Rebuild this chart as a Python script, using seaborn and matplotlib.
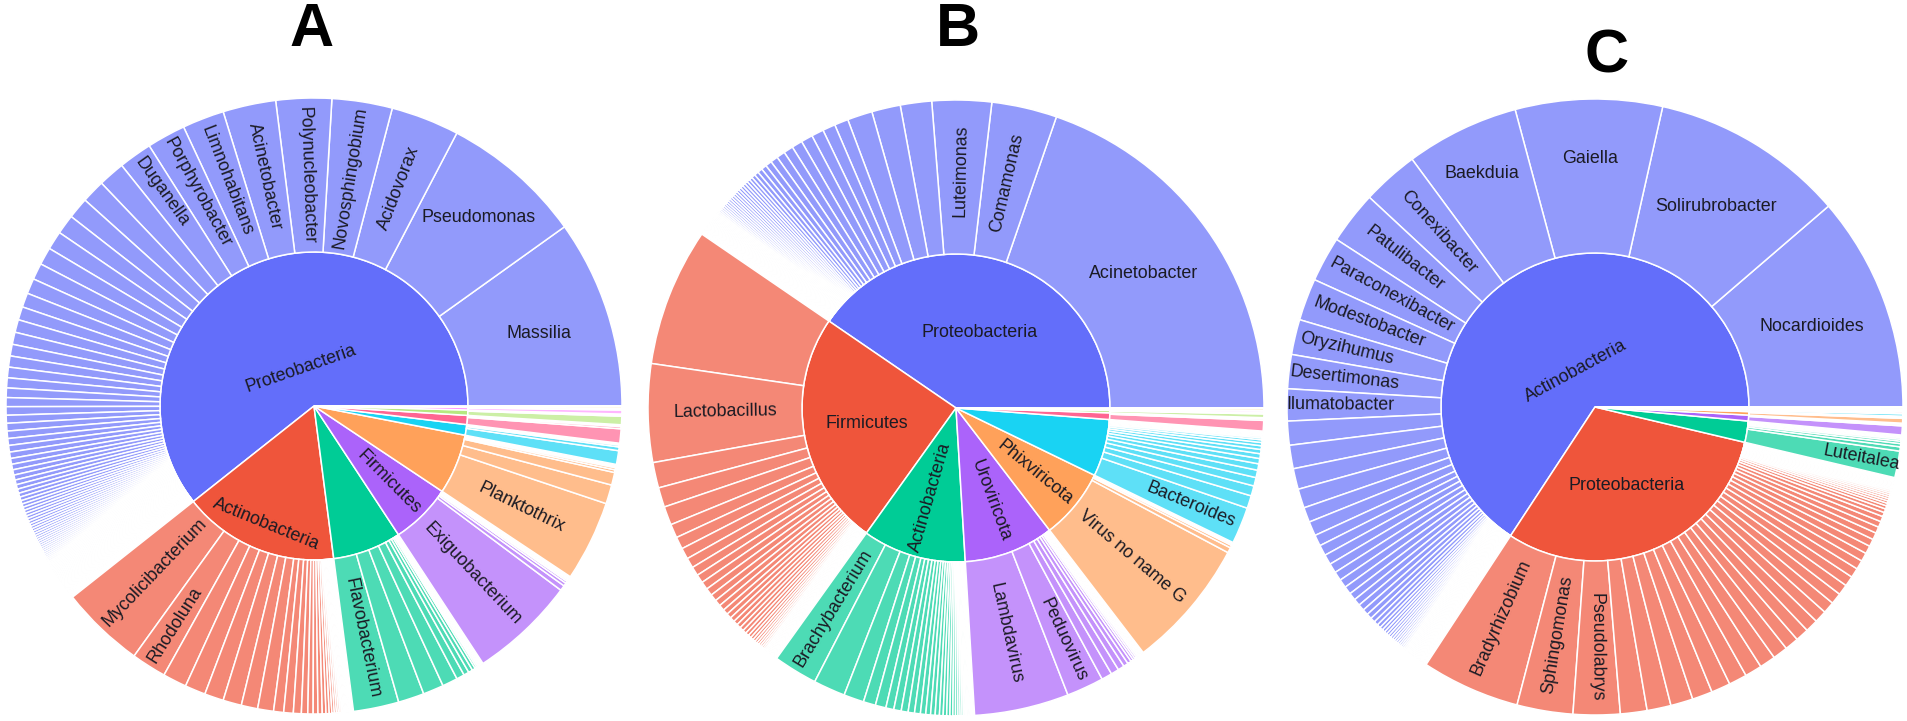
import matplotlib
matplotlib.use("Agg")
import matplotlib.pyplot as plt
import seaborn as sns
import numpy as np
from matplotlib.colors import to_rgb

# ------------------------------------------------------------------ data
PHYLUM_COLORS = ["#636EFA", "#EF553B", "#00CC96", "#AB63FA", "#FFA15A",
                 "#19D3F3", "#FF6692", "#B6E880", "#FF97FF", "#FECB52"]

# ---- Panel A
A_PHYLA = ["Proteobacteria", "Actinobacteria", "", "Firmicutes", "", "", "", "", "", ""]
A_PROTEO_NAMES = ["Massilia", "Pseudomonas", "Acidovorax", "Novosphingobium", "Polynucleobacter",
                  "Acinetobacter", "Limnohabitans", "Porphyrobacter", "Duganella"]
A_PROTEO_VALUES = [35.6, 26.8, 12.9, 11.4, 10.5, 10.0, 7.9, 7.3, 6.3,
                   5.0, 4.4, 4.0, 3.7, 3.5, 3.3, 3.1, 2.9, 2.7, 2.5, 2.4, 2.3, 2.2, 2.1, 2.0, 1.9,
                   1.8, 1.7, 1.6, 1.5, 1.45, 1.4, 1.3, 1.25, 1.2, 1.1, 1.05, 1.0, 0.95, 0.9, 0.85,
                   0.8, 0.75, 0.7, 0.65, 0.62, 0.6, 0.58, 0.56, 0.55, 0.54, 0.52, 0.5, 0.49, 0.48,
                   0.46, 0.45, 0.44, 0.42, 0.41, 0.4, 0.39, 0.38, 0.37, 0.36, 0.35, 0.34, 0.33,
                   0.32, 0.31, 0.3, 0.3, 0.29, 0.28, 0.28, 0.27, 0.26, 0.26, 0.25, 0.24, 0.24,
                   0.23, 0.22, 0.22, 0.21, 0.2, 0.2, 0.19, 0.19, 0.18, 0.18, 0.17, 0.17, 0.16,
                   0.16, 0.15, 0.15, 0.14, 0.14, 0.13, 0.13, 0.12, 0.12, 0.12, 0.11, 0.11, 0.1,
                   0.1, 0.1, 0.09, 0.09, 0.09, 0.08, 0.08, 0.08, 0.07, 0.07, 0.07, 0.06, 0.06,
                   0.06, 0.05, 0.05, 0.05, 0.04, 0.04, 0.04, 0.03, 0.03, 0.03]
A_ACTINO_NAMES = ["Mycolicibacterium", "Rhodoluna"]
A_ACTINO_VALUES = [15.9, 6.6, 4.5, 3.9, 3.6, 3.5, 3.1, 3.0, 1.9, 1.8, 1.5, 1.2, 1.0, 0.9, 0.8,
                   0.7, 0.6, 0.5, 0.45, 0.4, 0.36, 0.33, 0.3, 0.27, 0.24, 0.22, 0.2, 0.18, 0.16,
                   0.15, 0.13, 0.12, 0.1, 0.09, 0.08, 0.07, 0.06, 0.05, 0.04, 0.03]
A_BACT_NAMES = ["Flavobacterium"]
A_BACT_VALUES = [8.6, 4.9, 3.9, 2.9, 1.5, 1.0, 0.8, 0.6, 0.35, 0.3, 0.25, 0.2, 0.16, 0.13,
                 0.1, 0.08, 0.06, 0.05, 0.04]
A_FIRM_NAMES = ["Exiguobacterium"]
A_FIRM_VALUES = [20.0, 1.0, 0.6, 0.4, 0.3, 0.2, 0.15, 0.12, 0.1, 0.08, 0.06, 0.05]
A_CYANO_NAMES = ["Planktothrix"]
A_CYANO_VALUES = [15.2, 3.6, 2.4, 0.5, 0.4, 0.25, 0.15, 0.1, 0.08, 0.05]
A_P6_VALUES = [2.6, 0.7, 0.35, 0.2, 0.1, 0.05]
A_P7_VALUES = [2.7, 0.4, 0.2, 0.1, 0.05]
A_P8_VALUES = [1.6, 0.25, 0.1, 0.05]
A_P9_VALUES = [0.75, 0.15, 0.1]
A_P10_VALUES = [0.35, 0.1, 0.05]

# ---- Panel B
B_PHYLA = ["Proteobacteria", "Firmicutes", "Actinobacteria", "Uroviricota", "Phixviricota",
           "", "", "", "", ""]
B_PROTEO_NAMES = ["Acinetobacter", "Comamonas", "Luteimonas"]
B_PROTEO_VALUES = [70.8, 12.3, 11.2, 5.9, 5.4, 4.7, 2.6, 2.4, 2.3, 2.2, 2.0, 1.8, 1.6, 1.4, 1.2,
                   1.0, 0.9, 0.8, 0.7, 0.6, 0.58, 0.56, 0.55, 0.53, 0.52, 0.5, 0.49, 0.47, 0.46,
                   0.45, 0.44, 0.43, 0.42, 0.4, 0.38, 0.36, 0.34, 0.32, 0.3, 0.29, 0.28, 0.27,
                   0.26, 0.25, 0.24, 0.23, 0.22, 0.21, 0.2, 0.19, 0.18, 0.17, 0.16, 0.15, 0.14,
                   0.13, 0.12, 0.12, 0.11, 0.1, 0.1, 0.09, 0.09, 0.08, 0.08, 0.07, 0.07, 0.06,
                   0.06, 0.05, 0.05, 0.04, 0.04, 0.03, 0.03]
B_FIRM_NAMES = ["", "Lactobacillus"]
B_FIRM_VALUES = [26.0, 18.5, 4.8, 3.7, 3.5, 2.6, 2.3, 2.1, 1.9, 1.7, 1.6, 1.5, 1.4, 1.3, 1.2,
                 1.1, 1.0, 0.95, 0.9, 0.85, 0.8, 0.75, 0.7, 0.65, 0.6, 0.55, 0.5, 0.46, 0.43,
                 0.4, 0.37, 0.34, 0.31, 0.29, 0.27, 0.25, 0.23, 0.21, 0.19, 0.17, 0.15, 0.14,
                 0.13, 0.12, 0.11, 0.1, 0.09, 0.08, 0.07, 0.06, 0.05, 0.04, 0.03]
B_ACTINO_NAMES = ["Brachybacterium"]
B_ACTINO_VALUES = [8.3, 6.0, 3.8, 2.3, 2.0, 1.5, 1.4, 1.3, 1.2, 1.1, 1.0, 0.9, 0.85, 0.8, 0.7,
                   0.65, 0.6, 0.55, 0.5, 0.45, 0.4, 0.36, 0.32, 0.29, 0.26, 0.23, 0.2, 0.18,
                   0.16, 0.14, 0.12, 0.1, 0.08, 0.07, 0.06, 0.05, 0.04, 0.03]
B_UROV_NAMES = ["Lambdavirus", "Peduovirus"]
B_UROV_VALUES = [17.8, 7.0, 2.0, 1.5, 1.2, 0.9, 0.7, 0.5, 0.4, 0.35, 0.3, 0.26, 0.22, 0.19,
                 0.16, 0.13, 0.1, 0.08, 0.06, 0.04]
B_PHIX_NAMES = ["Virus no name G"]
B_PHIX_VALUES = [24.5, 1.0, 0.5, 0.3, 0.15, 0.1, 0.05]
B_BACT_NAMES = ["Bacteroides"]
B_BACT_VALUES = [6.9, 2.4, 1.9, 1.6, 1.4, 1.2, 1.0, 0.9, 0.8, 0.7, 0.6, 0.5, 0.35, 0.3, 0.25,
                 0.2, 0.16, 0.12, 0.09, 0.07, 0.05, 0.04]
B_P7_VALUES = [2.0, 0.3, 0.15, 0.05]
B_P8_VALUES = [0.7, 0.15, 0.05]
B_P9_VALUES = [0.35, 0.1]
B_P10_VALUES = [0.35, 0.1]

# ---- Panel C
C_PHYLA = ["Actinobacteria", "Proteobacteria", "", "", "", "", "", "", "", ""]
C_ACTINO_NAMES = ["Nocardioides", "Solirubrobacter", "Gaiella", "Baekduia", "Conexibacter",
                  "Patulibacter", "Paraconexibacter", "Modestobacter", "Oryzihumus",
                  "Desertimonas", "Ilumatobacter"]
C_ACTINO_VALUES = [40.5, 36.4, 27.6, 21.3, 10.6, 9.9, 8.5, 7.9, 6.6, 6.4, 6.0,
                   4.5, 4.4, 3.9, 3.6, 2.8, 2.7, 2.1, 2.0, 1.9, 1.8, 1.7, 1.6, 1.5, 1.4, 1.3,
                   1.2, 1.1, 1.0, 0.9, 0.8, 0.7, 0.6, 0.56, 0.53, 0.5, 0.48, 0.46, 0.44, 0.42,
                   0.4, 0.38, 0.36, 0.34, 0.32, 0.3, 0.29, 0.28, 0.27, 0.26, 0.25, 0.24, 0.23,
                   0.22, 0.21, 0.2, 0.19, 0.18, 0.17, 0.16, 0.15, 0.14, 0.13, 0.12, 0.11, 0.1,
                   0.1, 0.09, 0.09, 0.08, 0.08, 0.07, 0.07, 0.06, 0.06, 0.05, 0.05, 0.04, 0.04,
                   0.03, 0.03]
C_PROTEO_NAMES = ["Bradyrhizobium", "Sphingomonas", "Pseudolabrys"]
C_PROTEO_VALUES = [18.5, 10.5, 8.8, 5.0, 4.5, 4.2, 3.8, 3.6, 3.4, 3.2, 3.0, 2.8, 2.6, 2.5, 2.4,
                   2.3, 2.2, 2.1, 2.0, 1.9, 1.8, 1.7, 1.6, 1.5, 1.4, 1.3, 1.2, 1.1, 1.0, 0.8,
                   0.7, 0.6, 0.5, 0.45, 0.42, 0.4, 0.37, 0.35, 0.32, 0.3, 0.28, 0.26, 0.24,
                   0.22, 0.2, 0.18, 0.16, 0.14, 0.12, 0.1, 0.09, 0.08, 0.07, 0.06, 0.05, 0.04,
                   0.03]
C_ACIDO_NAMES = ["Luteitalea"]
C_ACIDO_VALUES = [5.0, 0.8, 0.6, 0.45, 0.35, 0.3, 0.2, 0.15, 0.1, 0.05]
C_P4_VALUES = [1.7, 0.3, 0.15, 0.05]
C_P5_VALUES = [0.9, 0.25, 0.1, 0.05]
C_P6_VALUES = [0.45, 0.1, 0.05]
C_P7_VALUES = [0.3, 0.1]
C_P8_VALUES = [0.2, 0.1]
C_P9_VALUES = [0.15, 0.05]
C_P10_VALUES = [0.15, 0.05]

PANEL_TITLES = ["A", "B", "C"]

# ------------------------------------------------------------------ style
W_PX, H_PX = 1908, 721
R_OUT, R_IN = 308.0, 154.0
CENTERS = {"A": (314, 315), "B": (956, 313), "C": (1595, 314)}
TITLE_XY = {"A": (312, 690), "B": (958, 690), "C": (1607, 664)}
LW = 1.1
FS = 12.9
FS_PX = FS * 100 / 72.0
TEXT_H = 1.2 * FS_PX
PAD = 4.4
TEXT_COLOR = "#1b1b24"
LEAF_OPACITY = 0.7

INNER_ORIENT = {
    "A": {"Proteobacteria": "t", "Actinobacteria": "t", "Firmicutes": "r"},
    "B": {"Proteobacteria": "h", "Firmicutes": "h", "Actinobacteria": "r",
          "Uroviricota": "r", "Phixviricota": "r"},
    "C": {"Actinobacteria": "t", "Proteobacteria": "h"},
}
OUTER_ORIENT = {
    "A": {"Massilia": "h", "Pseudomonas": "h"},
    "B": {"Acinetobacter": "h"},
    "C": {"Nocardioides": "h", "Solirubrobacter": "h", "Gaiella": "h", "Baekduia": "h"},
}

sns.set_theme(style="white")
plt.rcParams["font.family"] = ["Liberation Sans", "DejaVu Sans"]
palette = sns.color_palette(PHYLUM_COLORS)

fig = plt.figure(figsize=(W_PX / 100, H_PX / 100), dpi=100)
ax = fig.add_axes([0, 0, 1, 1])
renderer = fig.canvas.get_renderer()


def leaf_color(c):
    r, g, b = to_rgb(c)
    a = LEAF_OPACITY
    return (a * r + 1 - a, a * g + 1 - a, a * b + 1 - a)


def max_half_size(a, half, r, ring):
    q = a + 1.0 / (2.0 * np.tan(half))
    return r * min(1.0 / (np.sqrt(q * q + 0.5) + q),
                   ring / (np.sqrt(a * a + ring / 2.0) + a))


def radial_rot(th):
    th = th % 360
    if th <= 90:
        return th
    if th <= 270:
        return th - 180
    return th - 360


def tangential_rot(th):
    th = th % 360
    if th < 180:
        return th - 90
    return th - 270


def place_label(text, cx, cy, t1, t2, r0, r1, mode):
    mid_deg = 0.5 * (t1 + t2)
    mid = np.deg2rad(mid_deg)
    half = np.deg2rad(0.5 * (t2 - t1))
    ring = (r1 - r0) / r1
    t = ax.text(cx, cy, text, fontsize=FS, color=TEXT_COLOR, ha="center", va="center",
                rotation_mode="anchor", zorder=5)
    w = t.get_window_extent(renderer).width
    rp = r1 - 2 * PAD
    if mode == "h":
        rins = min(1.0 / (1.0 + 1.0 / np.sin(half)), ring / 2.0)
        rc = (1 - rins) * r1
        rot = 0
    elif mode == "r":
        a = w / TEXT_H
        s = max_half_size(a, half, rp, ring)
        rc = (np.cos(s / rp) - a * s / rp) * r1
        rot = radial_rot(mid_deg)
    else:
        a = TEXT_H / w
        s = max_half_size(a, half, rp, ring)
        rc = (np.cos(s / rp) - a * s / rp) * r1
        rot = tangential_rot(mid_deg)
    t.set_position((cx + rc * np.cos(mid), cy + rc * np.sin(mid)))
    t.set_rotation(rot)


def draw_panel(key, phyla, genus_names, genus_values, title):
    cx, cy = CENTERS[key]
    totals = [sum(v) for v in genus_values]
    inner_cols = [palette[i % len(palette)] for i in range(len(totals))]
    wi, _ = ax.pie(totals, radius=R_IN, center=(cx, cy), startangle=0, counterclock=True,
                   colors=inner_cols,
                   wedgeprops=dict(width=R_IN, edgecolor="white", linewidth=LW))
    flat_v, flat_c, flat_n = [], [], []
    for i, (names, vals) in enumerate(zip(genus_names, genus_values)):
        lc = leaf_color(inner_cols[i])
        for j, v in enumerate(vals):
            flat_v.append(v)
            flat_c.append(lc)
            flat_n.append(names[j] if j < len(names) else "")
    wo, _ = ax.pie(flat_v, radius=R_OUT, center=(cx, cy), startangle=0, counterclock=True,
                   colors=flat_c,
                   wedgeprops=dict(width=R_OUT - R_IN, edgecolor="white", linewidth=LW))
    for w, name in zip(wi, phyla):
        if name and name in INNER_ORIENT[key]:
            place_label(name, cx, cy, w.theta1, w.theta2, 0.0, R_IN, INNER_ORIENT[key][name])
    for w, name in zip(wo, flat_n):
        if name:
            place_label(name, cx, cy, w.theta1, w.theta2, R_IN, R_OUT,
                        OUTER_ORIENT[key].get(name, "r"))
    tx, ty = TITLE_XY[key]
    ax.text(tx, ty, title, fontsize=44, fontweight="bold", color="black",
            ha="center", va="center")


draw_panel("A", A_PHYLA,
           [A_PROTEO_NAMES, A_ACTINO_NAMES, A_BACT_NAMES, A_FIRM_NAMES, A_CYANO_NAMES,
            [], [], [], [], []],
           [A_PROTEO_VALUES, A_ACTINO_VALUES, A_BACT_VALUES, A_FIRM_VALUES, A_CYANO_VALUES,
            A_P6_VALUES, A_P7_VALUES, A_P8_VALUES, A_P9_VALUES, A_P10_VALUES],
           PANEL_TITLES[0])
draw_panel("B", B_PHYLA,
           [B_PROTEO_NAMES, B_FIRM_NAMES, B_ACTINO_NAMES, B_UROV_NAMES, B_PHIX_NAMES,
            B_BACT_NAMES, [], [], [], []],
           [B_PROTEO_VALUES, B_FIRM_VALUES, B_ACTINO_VALUES, B_UROV_VALUES, B_PHIX_VALUES,
            B_BACT_VALUES, B_P7_VALUES, B_P8_VALUES, B_P9_VALUES, B_P10_VALUES],
           PANEL_TITLES[1])
draw_panel("C", C_PHYLA,
           [C_ACTINO_NAMES, C_PROTEO_NAMES, C_ACIDO_NAMES, [], [], [], [], [], [], []],
           [C_ACTINO_VALUES, C_PROTEO_VALUES, C_ACIDO_VALUES, C_P4_VALUES, C_P5_VALUES,
            C_P6_VALUES, C_P7_VALUES, C_P8_VALUES, C_P9_VALUES, C_P10_VALUES],
           PANEL_TITLES[2])

ax.set_xlim(0, W_PX)
ax.set_ylim(0, H_PX)
ax.set_aspect("auto")
ax.axis("off")
fig.savefig("out.png", dpi=100, facecolor="white")
